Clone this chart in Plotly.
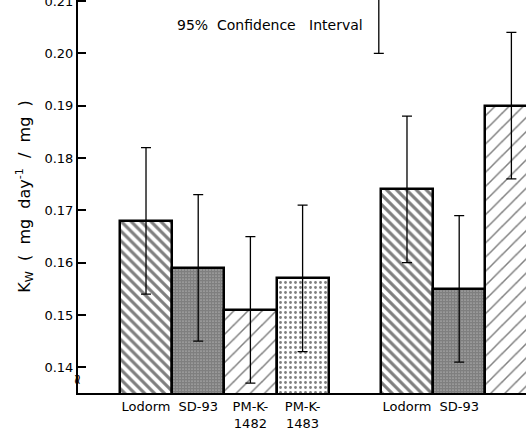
import plotly.graph_objects as go

# ---- data ----
categories = ["Lodorm", "SD-93", "PM-K-<br>1482", "PM-K-<br>1483",
              "Lodorm", "SD-93", "PM-K-<br>1482"]
positions = [0, 1, 2, 3, 5, 6, 7]
kw_values = [0.168, 0.159, 0.151, 0.157, 0.174, 0.155, 0.190]
ci_half = [0.014, 0.014, 0.014, 0.014, 0.014, 0.014, 0.014]
y_ticks = [0.14, 0.15, 0.16, 0.17, 0.18, 0.19, 0.20, 0.21]
y_ticktext = ["0.14", "0.15", "0.16", "0.17", "0.18", "0.19", "0.20", "0.21"]
legend_ci_center = [0.214]
legend_ci_half = [0.014]
legend_ci_pos = [4.46]

shapes = ["\\", ".", "/", ".", "\\", ".", "/"]
sizes = [7, 3, 10, 5, 7, 3, 10]
solid = [0.45, 0.85, 0.15, 0.25, 0.45, 0.85, 0.15]

FONT = "DejaVu Sans"

fig = go.Figure()
fig.add_trace(go.Bar(
    x=positions, y=kw_values, width=1.0,
    marker=dict(color="white",
                line=dict(color="black", width=2.5),
                pattern=dict(shape=shapes, size=sizes, solidity=solid,
                             fgcolor="black", bgcolor="white")),
    error_y=dict(type="data", array=ci_half, color="black",
                 thickness=1.3, width=5),
    showlegend=False,
))
fig.add_trace(go.Scatter(
    x=legend_ci_pos, y=legend_ci_center, mode="markers",
    marker=dict(size=1, color="rgba(0,0,0,0)"),
    error_y=dict(type="data", array=legend_ci_half, color="black",
                 thickness=1.3, width=5),
    showlegend=False,
))

fig.add_annotation(x=2.375, y=0.2054, xref="x", yref="y",
                   text="95%  Confidence   Interval", showarrow=False,
                   font=dict(family=FONT, size=14, color="black"))
fig.add_annotation(xref="paper", x=0, y=0.1377, yref="y", xanchor="center",
                   text="≈", showarrow=False, textangle=90,
                   font=dict(family=FONT, size=14, color="black"))

fig.update_layout(
    width=526, height=433,
    margin=dict(l=78, r=0, t=0, b=40, autoexpand=False),
    plot_bgcolor="white", paper_bgcolor="white",
    font=dict(family=FONT, size=12, color="black"),
    bargap=0,
)
fig.update_xaxes(
    range=[-1.303, 7.28], tickvals=positions, ticktext=categories,
    showline=True, linecolor="black", linewidth=2, ticks="",
    showgrid=False, zeroline=False, automargin=False,
    tickfont=dict(family=FONT, size=13, color="black"),
)
fig.update_yaxes(
    range=[0.1351, 0.2102], tickvals=y_ticks, ticktext=y_ticktext,
    showline=True, linecolor="black", linewidth=2,
    ticks="inside", ticklen=8, tickwidth=1.5, tickcolor="black",
    ticklabeloverflow="allow", automargin=False,
    showgrid=False, zeroline=False,
    tickfont=dict(family=FONT, size=13, color="black"),
    title=dict(text="K<sub>W</sub>  (  mg  day<sup>-1</sup>  /  mg  )",
               font=dict(family=FONT, size=16, color="black"), standoff=10),
)

fig.write_html("out.html")
